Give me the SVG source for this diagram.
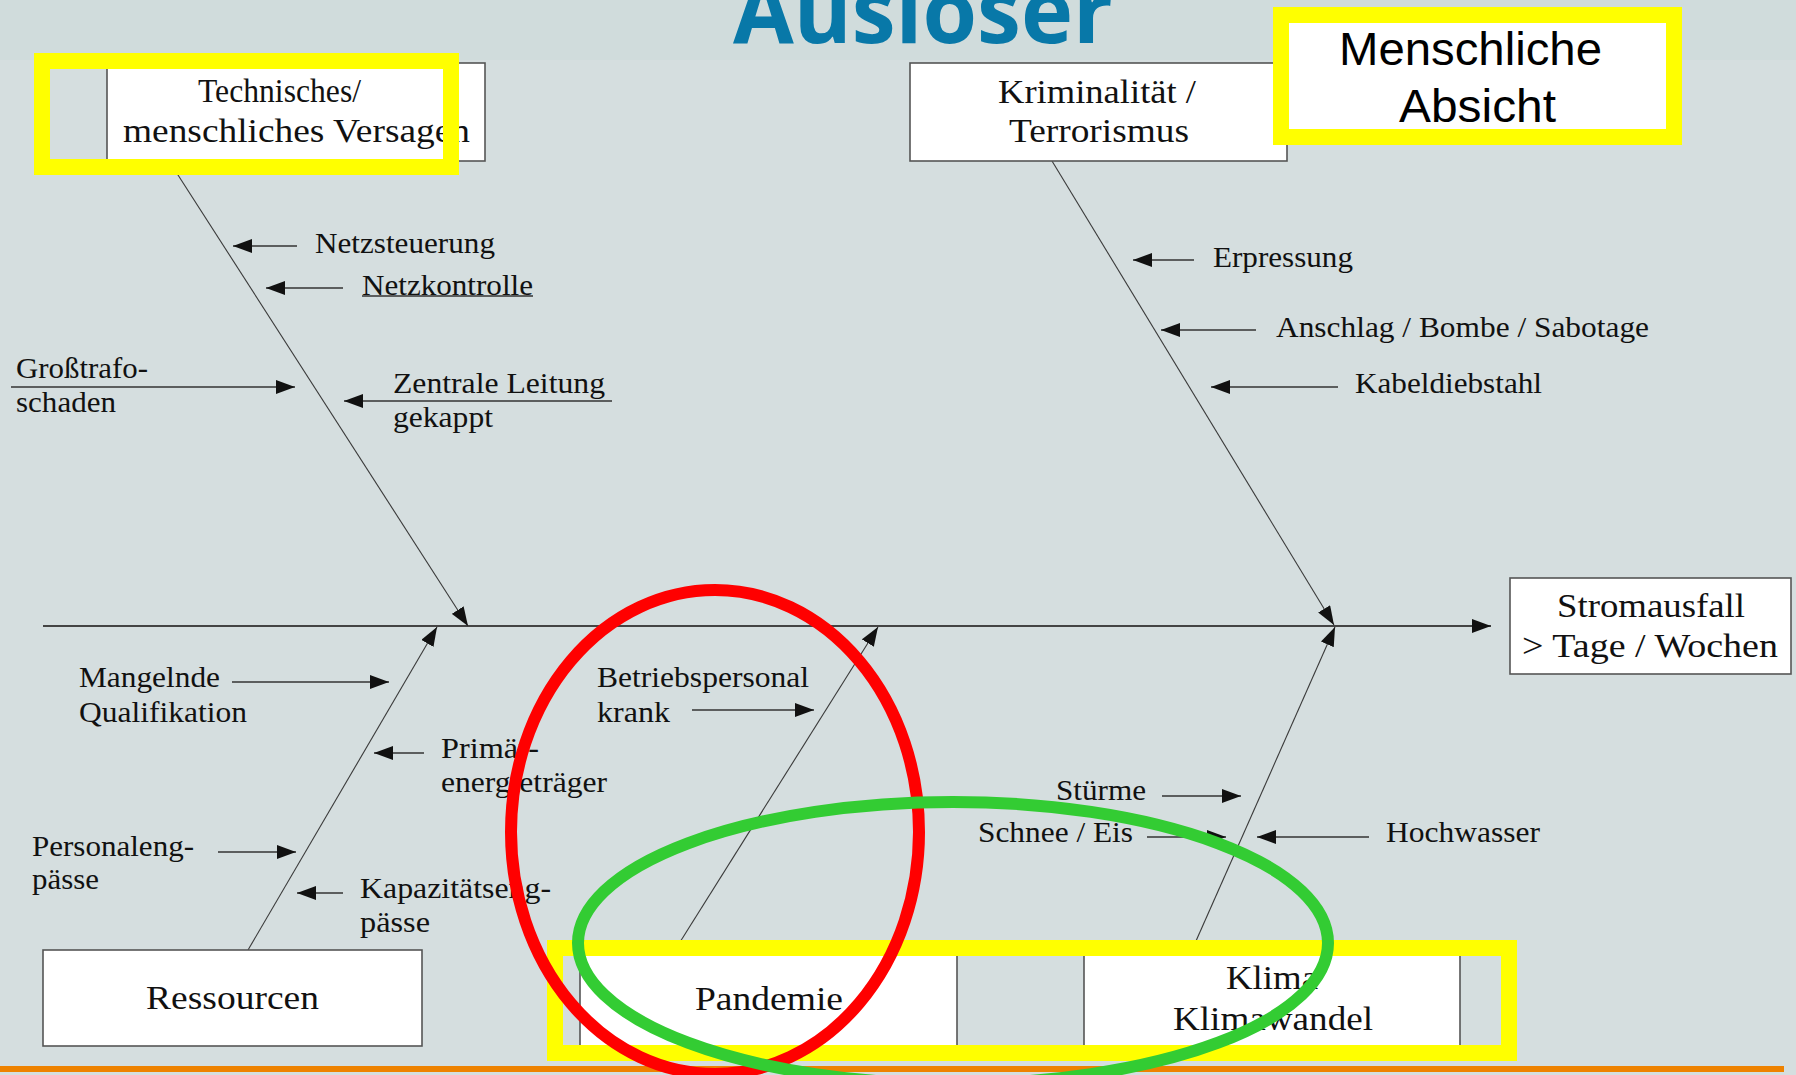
<svg xmlns="http://www.w3.org/2000/svg" width="1796" height="1075" viewBox="0 0 1796 1075">
<style>
.box{fill:#ffffff;stroke:#555555;stroke-width:1.6}
.bt{font-family:"Liberation Serif","Times New Roman",serif;font-size:33px;fill:#111111}
.lt{font-family:"Liberation Serif","Times New Roman",serif;font-size:29px;fill:#111111}
.bone{stroke:#3a3a3a;stroke-width:1.1;fill:none}
.arr{stroke:#333333;stroke-width:1.6;fill:none}
.spine{stroke:#444444;stroke-width:2;fill:none}
.hl{fill:none;stroke:#ffff00;stroke-width:16}
</style>
<defs>
<marker id="ah" markerUnits="userSpaceOnUse" markerWidth="19" markerHeight="14" refX="19" refY="7" orient="auto">
<path d="M0,0 L19,7 L0,14 Z" fill="#111111"/>
</marker>
</defs>
<rect x="0" y="0" width="1796" height="1075" fill="#d5dedf"/>
<rect x="0" y="0" width="1796" height="60" fill="#d0dcdc"/>
<text x="733" y="43" font-family="'Open Sans',sans-serif" font-weight="bold" font-size="90" fill="#0878a8" textLength="380" lengthAdjust="spacingAndGlyphs">Auslöser</text>

<g id="connectors">
<line class="spine" x1="43" y1="626" x2="1491" y2="626" marker-end="url(#ah)"/>
<line class="bone" x1="169" y1="161" x2="468" y2="626" marker-end="url(#ah)"/>
<line class="bone" x1="1052" y1="161" x2="1334" y2="625" marker-end="url(#ah)"/>
<line class="bone" x1="248" y1="950" x2="437" y2="627" marker-end="url(#ah)"/>
<line class="bone" x1="675" y1="950" x2="878" y2="627" marker-end="url(#ah)"/>
<line class="bone" x1="1192" y1="950" x2="1335" y2="627" marker-end="url(#ah)"/>
<line class="arr" x1="297" y1="246" x2="233" y2="246" marker-end="url(#ah)"/>
<line class="arr" x1="343" y1="288" x2="266" y2="288" marker-end="url(#ah)"/>
<line class="arr" x1="11" y1="387" x2="295" y2="387" marker-end="url(#ah)"/>
<line class="arr" x1="612" y1="401" x2="344" y2="401" marker-end="url(#ah)"/>
<line class="arr" x1="1194" y1="260" x2="1133" y2="260" marker-end="url(#ah)"/>
<line class="arr" x1="1256" y1="330" x2="1161" y2="330" marker-end="url(#ah)"/>
<line class="arr" x1="1338" y1="387" x2="1211" y2="387" marker-end="url(#ah)"/>
<line class="arr" x1="232" y1="682" x2="389" y2="682" marker-end="url(#ah)"/>
<line class="arr" x1="424" y1="753" x2="374" y2="753" marker-end="url(#ah)"/>
<line class="arr" x1="218" y1="852" x2="296" y2="852" marker-end="url(#ah)"/>
<line class="arr" x1="343" y1="893" x2="297" y2="893" marker-end="url(#ah)"/>
<line class="arr" x1="692" y1="710" x2="814" y2="710" marker-end="url(#ah)"/>
<line class="arr" x1="1162" y1="796" x2="1241" y2="796" marker-end="url(#ah)"/>
<line class="arr" x1="1147" y1="837" x2="1226" y2="837" marker-end="url(#ah)"/>
<line class="arr" x1="1369" y1="837" x2="1257" y2="837" marker-end="url(#ah)"/>
</g>

<g id="node-technisch">
<rect class="box" x="107" y="63" width="378" height="98"/>
<text class="bt" x="198" y="102" textLength="163" lengthAdjust="spacingAndGlyphs">Technisches/</text>
<text class="bt" x="123" y="142" textLength="347" lengthAdjust="spacingAndGlyphs">menschliches Versagen</text>
</g>
<g id="node-kriminalitaet">
<rect class="box" x="910" y="63" width="377" height="98"/>
<text class="bt" x="998" y="103" textLength="198" lengthAdjust="spacingAndGlyphs">Kriminalität /</text>
<text class="bt" x="1009" y="142" textLength="180" lengthAdjust="spacingAndGlyphs">Terrorismus</text>
</g>
<g id="node-stromausfall">
<rect class="box" x="1510" y="578" width="281" height="96"/>
<text class="bt" x="1557" y="617" textLength="188" lengthAdjust="spacingAndGlyphs">Stromausfall</text>
<text class="bt" x="1522" y="657" textLength="256" lengthAdjust="spacingAndGlyphs">&gt; Tage / Wochen</text>
</g>
<g id="node-ressourcen">
<rect class="box" x="43" y="950" width="379" height="96"/>
<text class="bt" x="146" y="1009" textLength="173" lengthAdjust="spacingAndGlyphs">Ressourcen</text>
</g>
<g id="node-pandemie">
<rect class="box" x="580" y="950" width="377" height="96"/>
<text class="bt" x="695" y="1010" textLength="148" lengthAdjust="spacingAndGlyphs">Pandemie</text>
</g>
<g id="node-klima">
<rect class="box" x="1084" y="950" width="376" height="96"/>
<text class="bt" x="1226" y="989" textLength="92" lengthAdjust="spacingAndGlyphs">Klima</text>
<text class="bt" x="1173" y="1030" textLength="200" lengthAdjust="spacingAndGlyphs">Klimawandel</text>
</g>

<g id="label-netzsteuerung"><text class="lt" x="315" y="253" textLength="180" lengthAdjust="spacingAndGlyphs">Netzsteuerung</text></g>
<g id="label-netzkontrolle"><text class="lt" x="362" y="295" textLength="171" lengthAdjust="spacingAndGlyphs">Netzkontrolle</text><line x1="362" y1="296" x2="533" y2="296" stroke="#333333" stroke-width="1.3"/></g>
<g id="label-grosstrafo"><text class="lt" x="16" y="378" textLength="132" lengthAdjust="spacingAndGlyphs">Großtrafo-</text><text class="lt" x="16" y="412" textLength="100" lengthAdjust="spacingAndGlyphs">schaden</text></g>
<g id="label-zentrale"><text class="lt" x="393" y="393" textLength="212" lengthAdjust="spacingAndGlyphs">Zentrale Leitung</text><text class="lt" x="393" y="427" textLength="100" lengthAdjust="spacingAndGlyphs">gekappt</text></g>
<g id="label-erpressung"><text class="lt" x="1213" y="267" textLength="140" lengthAdjust="spacingAndGlyphs">Erpressung</text></g>
<g id="label-anschlag"><text class="lt" x="1276" y="337" textLength="373" lengthAdjust="spacingAndGlyphs">Anschlag / Bombe / Sabotage</text></g>
<g id="label-kabeldiebstahl"><text class="lt" x="1355" y="393" textLength="187" lengthAdjust="spacingAndGlyphs">Kabeldiebstahl</text></g>
<g id="label-mangelnde"><text class="lt" x="79" y="687" textLength="141" lengthAdjust="spacingAndGlyphs">Mangelnde</text><text class="lt" x="79" y="722" textLength="168" lengthAdjust="spacingAndGlyphs">Qualifikation</text></g>
<g id="label-primaer"><text class="lt" x="441" y="758" textLength="98" lengthAdjust="spacingAndGlyphs">Primär-</text><text class="lt" x="441" y="792" textLength="166" lengthAdjust="spacingAndGlyphs">energieträger</text></g>
<g id="label-personal"><text class="lt" x="32" y="856" textLength="162" lengthAdjust="spacingAndGlyphs">Personaleng-</text><text class="lt" x="32" y="889" textLength="67" lengthAdjust="spacingAndGlyphs">pässe</text></g>
<g id="label-kapazitaet"><text class="lt" x="360" y="898" textLength="191" lengthAdjust="spacingAndGlyphs">Kapazitätseng-</text><text class="lt" x="360" y="932" textLength="70" lengthAdjust="spacingAndGlyphs">pässe</text></g>
<g id="label-betriebspersonal"><text class="lt" x="597" y="687" textLength="212" lengthAdjust="spacingAndGlyphs">Betriebspersonal</text><text class="lt" x="597" y="722" textLength="73" lengthAdjust="spacingAndGlyphs">krank</text></g>
<g id="label-stuerme"><text class="lt" x="1056" y="800" textLength="90" lengthAdjust="spacingAndGlyphs">Stürme</text></g>
<g id="label-schnee"><text class="lt" x="978" y="842" textLength="155" lengthAdjust="spacingAndGlyphs">Schnee / Eis</text></g>
<g id="label-hochwasser"><text class="lt" x="1386" y="842" textLength="154" lengthAdjust="spacingAndGlyphs">Hochwasser</text></g>

<g id="node-menschliche-absicht">
<rect x="1281" y="15" width="393" height="122" fill="#ffffff" stroke="#ffff00" stroke-width="16"/>
<text x="1339" y="65" font-family="'Liberation Sans',Arial,sans-serif" font-size="47" fill="#000000" textLength="263" lengthAdjust="spacingAndGlyphs">Menschliche</text>
<text x="1399" y="122" font-family="'Liberation Sans',Arial,sans-serif" font-size="47" fill="#000000" textLength="157" lengthAdjust="spacingAndGlyphs">Absicht</text>
</g>

<g id="highlights">
<rect class="hl" x="42" y="61" width="409" height="106"/>
<rect class="hl" x="555" y="948" width="954" height="105"/>
<rect x="0" y="1066" width="1784" height="6" fill="#ee8200"/>
<ellipse cx="715" cy="832" rx="204" ry="242" fill="none" stroke="#ff0000" stroke-width="12"/>
<ellipse cx="953" cy="943" rx="375" ry="141" fill="none" stroke="#33cc33" stroke-width="12"/>
</g>
</svg>
